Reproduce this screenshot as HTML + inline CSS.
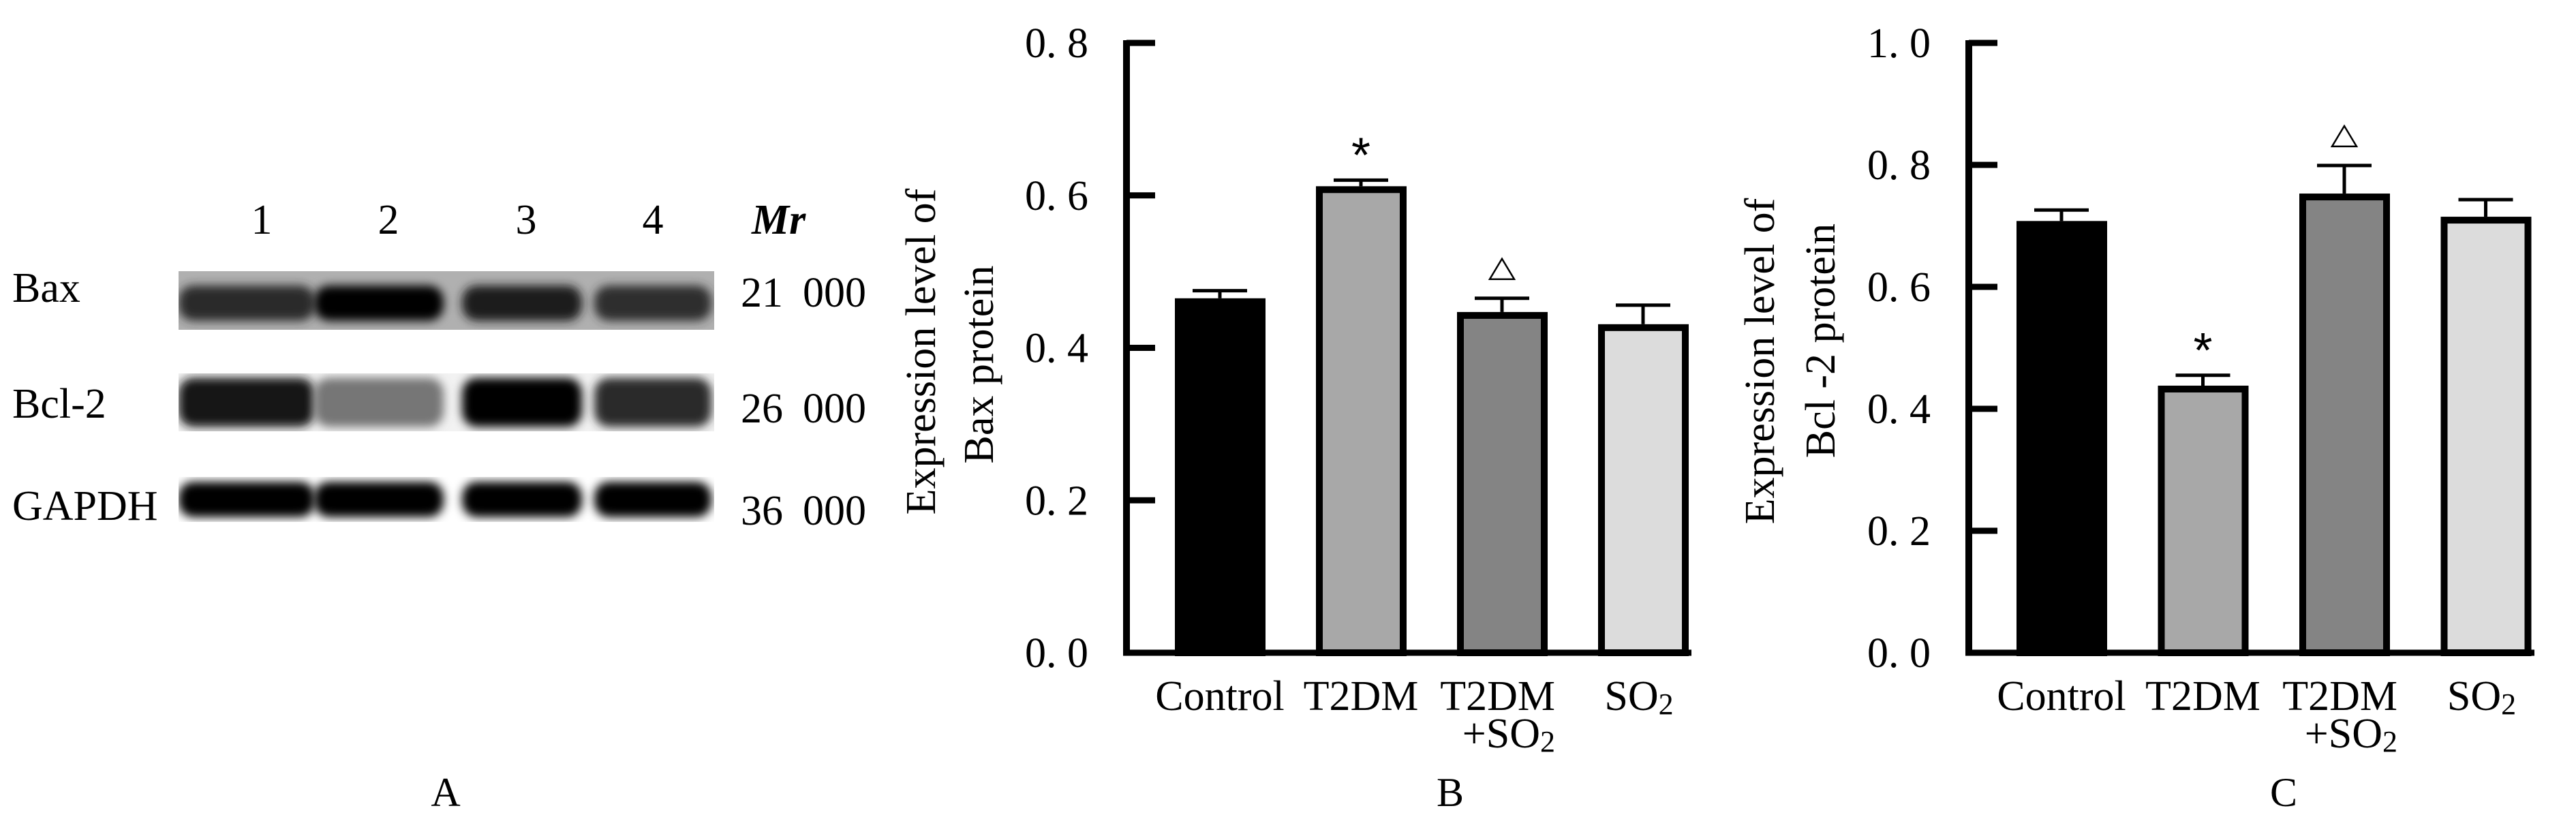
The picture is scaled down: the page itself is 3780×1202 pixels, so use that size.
<!DOCTYPE html>
<html><head><meta charset="utf-8"><style>
html,body{margin:0;padding:0;background:#fff;}
svg{display:block;font-family:"Liberation Serif","Noto Serif CJK SC",serif;}
</style></head><body>
<svg id="fig" width="3780" height="1202" viewBox="0 0 3780 1202" xmlns="http://www.w3.org/2000/svg">
<defs>
<filter id="blur" x="-20%" y="-50%" width="140%" height="200%"><feGaussianBlur stdDeviation="7"/></filter>
<clipPath id="clipBax"><rect x="262" y="398" width="786" height="86"/></clipPath>
<clipPath id="clipBcl"><rect x="262" y="548" width="786" height="85"/></clipPath>
<clipPath id="clipGap"><rect x="262" y="700" width="786" height="66"/></clipPath>
</defs>
<g id="panelA"></g>
<g id="panelB"></g>
<g id="panelC"></g>
</svg>
<script>
const categories = ["Control", "T2DM", "T2DM+SO2", "SO2"];
const baxValues = [0.465, 0.612, 0.447, 0.431];
const baxErrors = [0.475, 0.620, 0.465, 0.456];
const bclValues = [0.708, 0.438, 0.753, 0.715];
const bclErrors = [0.726, 0.455, 0.799, 0.743];
const baxTicks = ["0. 0", "0. 2", "0. 4", "0. 6", "0. 8"];
const bclTicks = ["0. 0", "0. 2", "0. 4", "0. 6", "0. 8", "1. 0"];
const barFills = ["#000000", "#a8a8a8", "#848484", "#dcdcdc"];
const laneLabels = ["1", "2", "3", "4"];
const blotRows = ["Bax", "Bcl-2", "GAPDH"];
const blotMrA = ["21", "26", "36"];
const blotMrB = ["000", "000", "000"];
const baxBand = [0.82, 1.0, 0.88, 0.8];
const bclBand = [0.92, 0.5, 1.0, 0.82];
const gapdhBand = [1.0, 1.0, 1.0, 1.0];

const NS = "http://www.w3.org/2000/svg";
function mk(parent, tag, attrs, text) {
  const e = document.createElementNS(NS, tag);
  for (const k in attrs) e.setAttribute(k, attrs[k]);
  if (text !== undefined) e.textContent = text;
  parent.appendChild(e);
  return e;
}

/* ---------- Panel A ---------- */
const A = document.getElementById("panelA");
const laneX = [362, 556, 766, 958];
const laneW = [200, 190, 176, 172];
const laneNumX = [384, 570, 772, 958];
laneLabels.forEach((l, i) => {
  const t = mk(A, "text", {x: laneNumX[i], y: 343, "font-size": 62, "text-anchor": "middle"}, l);
  
  
});
const mr = mk(A, "text", {x: 1103, y: 343, "font-size": 62, "font-style": "italic", "font-weight": "bold"}, "Mr");


const rowY = [443, 613, 763];
const rowTop = [398, 548, 700];
const rowH = [86, 85, 66];
const bandData = [baxBand, bclBand, gapdhBand];
const bandH = [52, 72, 52];
const clips = ["clipBax", "clipBcl", "clipGap"];
const bgs = ["#b0b0b0", "#f2f2f2", "#ffffff"];
blotRows.forEach((r, ri) => {
  const t = mk(A, "text", {x: 18, y: rowY[ri], "font-size": 62}, r);
  
  
  const m = mk(A, "text", {x: 1087, y: rowY[ri] + 7, "font-size": 62}, blotMrA[ri]);
  
  
  mk(m, "tspan", {x: 1178}, blotMrB[ri]);
  const g = mk(A, "g", {"clip-path": "url(#" + clips[ri] + ")"});
  
  
  mk(g, "rect", {x: 262, y: rowTop[ri], width: 786, height: rowH[ri], fill: bgs[ri]});
  const cy = rowTop[ri] + rowH[ri] / 2 + (ri === 0 ? 4 : 0);
  bandData[ri].forEach((v, li) => {
    const gray = Math.round(235 * (1 - v));
    const b = mk(g, "rect", {x: laneX[li] - laneW[li] / 2, y: cy - bandH[ri] / 2, width: laneW[li], height: bandH[ri], rx: 22, fill: "rgb(" + gray + "," + gray + "," + gray + ")", filter: "url(#blur)"});
    
    
  });
});
const la = mk(A, "text", {x: 654, y: 1183, "font-size": 60, "text-anchor": "middle"}, "A");



/* ---------- Bar chart ---------- */
function barChart(root, o) {
  const y = v => o.y0 - v / o.max * (o.y0 - o.yTop);
  const xc = i => o.x1 + i * o.step;
  o.ticks.forEach((t, i) => {
    const v = i * o.tickStep;
    const tk = mk(root, "line", {x1: o.axisX, x2: o.axisX + 42, y1: y(v), y2: y(v), stroke: "#000", "stroke-width": 9});
    
    
    const tl = mk(root, "text", {x: o.axisX - 56, y: y(v) + 21, "font-size": 62, "text-anchor": "end", "xml:space": "preserve"}, t);
    
    
  });
  o.values.forEach((v, i) => {
    const x = xc(i) - 66;
    const top = y(v);
    const b = mk(root, "rect", {x: x + 5, y: top + 5, width: 123, height: o.y0 - top - 5, fill: barFills[i], stroke: "#000", "stroke-width": 10});
    
    
    const ey = y(o.errors[i]);
    const el = mk(root, "line", {x1: xc(i), x2: xc(i), y1: top, y2: ey, stroke: "#000", "stroke-width": 5});
    
    
    const ec = mk(root, "line", {x1: xc(i) - 40, x2: xc(i) + 40, y1: ey, y2: ey, stroke: "#000", "stroke-width": 5});
    
    
  });
  const ya = mk(root, "line", {x1: o.axisX, x2: o.axisX, y1: o.yTop - 4, y2: o.y0 + 4, stroke: "#000", "stroke-width": 10});
  
  
  const xa = mk(root, "line", {x1: o.axisX - 5, x2: o.axisEnd, y1: o.y0, y2: o.y0, stroke: "#000", "stroke-width": 9});
  
  
  const si = o.starIdx, ti = o.triIdx;
  const st = mk(root, "text", {x: xc(si), y: y(o.errors[si]) - 12, "font-size": 72, "text-anchor": "middle", "font-family": "Liberation Sans, sans-serif"}, "*");
  
  
  const ty = y(o.errors[ti]) - 28, tx = xc(ti);
  const tr = mk(root, "polygon", {points: (tx - 18) + "," + ty + " " + (tx + 18) + "," + ty + " " + tx + "," + (ty - 30), fill: "none", stroke: "#000", "stroke-width": 2.5});
  
  
  const labs = [["Control"], ["T2DM"], ["T2DM", "+SO"], ["SO"]];
  const anch = [["middle"], ["middle"], ["end", "end"], ["middle"]];
  labs.forEach((ls, i) => {
    ls.forEach((s, j) => {
      let ax = anch[i][j] === "end" ? xc(i) + 78 : xc(i);
      if (i === 3) ax = xc(i) - 6;
      const t = mk(root, "text", {x: ax, y: 1042 + j * 55, "font-size": 62, "text-anchor": anch[i][j]});
      
      
      if (s.endsWith("SO")) {
        mk(t, "tspan", {}, s);
        mk(t, "tspan", {"font-size": 44, dy: 6}, "2");
      } else t.textContent = s;
    });
  });
  const yt = mk(root, "text", {"font-size": 62, "text-anchor": "middle", transform: "translate(" + o.titleX1 + "," + o.titleY1 + ") rotate(-90)"}, "Expression level of");
  
  
  const yt2 = mk(root, "text", {"font-size": 62, "text-anchor": "middle", transform: "translate(" + o.titleX2 + "," + o.titleY2 + ") rotate(-90)", "xml:space": "preserve"}, o.title2);
  
  
  const pl = mk(root, "text", {x: o.panelX, y: 1183, "font-size": 60, "text-anchor": "middle"}, o.panel);
  
  
}

barChart(document.getElementById("panelB"), {
  values: baxValues, errors: baxErrors, ticks: baxTicks, tickStep: 0.2, max: 0.8,
  y0: 958, yTop: 63, axisX: 1653, axisEnd: 2482, x1: 1790, step: 207,
  starIdx: 1, triIdx: 2, title2: "Bax protein",
  titleX1: 1372, titleY1: 516, titleX2: 1457, titleY2: 535, panel: "B", panelX: 2128
});
barChart(document.getElementById("panelC"), {
  values: bclValues, errors: bclErrors, ticks: bclTicks, tickStep: 0.2, max: 1.0,
  y0: 958, yTop: 63, axisX: 2889, axisEnd: 3719, x1: 3025, step: 207.5,
  starIdx: 1, triIdx: 2, title2: "Bcl -2 protein",
  titleX1: 2603, titleY1: 530, titleX2: 2692, titleY2: 500, panel: "C", panelX: 3351
});
</script>
</body></html>
